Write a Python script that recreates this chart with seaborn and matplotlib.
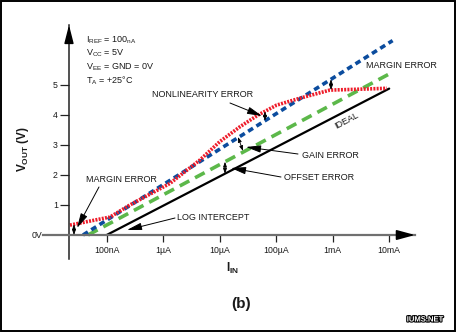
import numpy as np
import pandas as pd
import matplotlib
matplotlib.use("Agg")
import matplotlib.pyplot as plt
import seaborn as sns
from matplotlib.patches import Rectangle
import matplotlib.patheffects as pe

# ---------------- data ----------------
ideal_i = [1e-7, 1e-2]
ideal_v = [0.0, 4.88]
offset_i = [4.68e-8, 1.18e-2]
offset_v = [0.0, 5.44]
gain_i = [3.81e-8, 1.15e-2]
gain_v = [0.0, 6.48]
nonlin_i = [2.24e-8, 1.15e-7, 2.57e-7, 1.32e-6, 4.47e-6, 1.0e-5, 2.29e-5,
            4.79e-5, 1.02e-4, 2.63e-4, 8.91e-4, 3.02e-3, 9.12e-3]
nonlin_v = [0.33, 0.60, 1.00, 1.72, 2.50, 3.11, 3.61, 4.00, 4.33, 4.56,
            4.83, 4.86, 4.89]
x_ticks = [1e-7, 1e-6, 1e-5, 1e-4, 1e-3, 1e-2]
x_tick_labels = ["100nA", "1\u00b5A", "10\u00b5A", "100\u00b5A", "1mA", "10mA"]
y_ticks = [1, 2, 3, 4, 5]
y_tick_labels = ["1", "2", "3", "4", "5"]

sns.set_theme(style="white")
plt.rcParams["font.family"] = ["Liberation Sans", "DejaVu Sans"]
plt.rcParams["mathtext.fontset"] = "custom"
plt.rcParams["mathtext.rm"] = "Liberation Sans"
plt.rcParams["mathtext.bf"] = "Liberation Sans:bold"

TXT = "#1a1a1a"

fig = plt.figure(figsize=(4.57, 3.32), dpi=100)
fig.patch.set_facecolor("white")
ax = fig.add_axes([43 / 457, (332 - 259) / 332, (415 - 43) / 457, (259 - 25) / 332])
ax.set_facecolor("none")
ax.set_xscale("log")
YAX = 10 ** -7.667
ax.set_xlim(10 ** -8.127, 10 ** -1.543)
ax.set_ylim(-0.8, 7.0)


# helper: reference pixel position -> data coords (for text placement)
def D(px, py):
    return (10 ** (-7.667 + (px - 69) / 56.5), (235 - py) / 30.0)


# ---------------- series ----------------
sns.lineplot(x=ideal_i, y=ideal_v, ax=ax, color="black", lw=1.6, sort=False)
sns.lineplot(x=offset_i, y=offset_v, ax=ax, color="#5cb84a", lw=2.6, sort=False)
ax.lines[-1].set_linestyle((0, (3.0, 1.8)))
sns.lineplot(x=gain_i, y=gain_v, ax=ax, color="#0b4c9e", lw=2.6, sort=False)
ax.lines[-1].set_linestyle((0, (1.6, 1.1)))
sns.lineplot(x=nonlin_i, y=nonlin_v, ax=ax, color="#ee1c2a", lw=2.6, sort=False)
ax.lines[-1].set_linestyle((0, (0.55, 0.35)))

# ---------------- axes ----------------
for s in ["top", "right"]:
    ax.spines[s].set_visible(False)
ax.spines["bottom"].set_position(("data", 0))
ax.spines["left"].set_position(("data", YAX))
ax.spines["bottom"].set_color("#707070")
ax.spines["bottom"].set_linewidth(1.6)
ax.spines["left"].set_color("#222222")
ax.spines["left"].set_linewidth(1.1)
ax.set_xticks(x_ticks)
ax.set_xticklabels(x_tick_labels)
ax.minorticks_off()
ax.xaxis.set_minor_locator(matplotlib.ticker.NullLocator())
ax.set_yticks(y_ticks)
ax.set_yticklabels(y_tick_labels)
ax.tick_params(axis="x", direction="out", length=5, width=0.9, color="#222222",
               pad=3, labelsize=6.3, labelcolor=TXT, bottom=True)
ax.tick_params(axis="y", direction="out", length=6.5, width=0.9, color="#222222",
               pad=1.5, labelsize=6.3, labelcolor=TXT, left=True)
ax.text(-0.002, 0, "0V", transform=ax.get_yaxis_transform(), ha="right",
        va="center", fontsize=6.3, color=TXT)
ax.grid(False)

# arrow heads on axes
ax.annotate("", xy=(1.0, 0), xycoords=("axes fraction", "data"),
            xytext=(0.955, 0), textcoords=("axes fraction", "data"),
            arrowprops=dict(arrowstyle="-|>,head_length=1.1,head_width=0.3",
                            mutation_scale=10, color="black", lw=1.2,
                            shrinkA=0, shrinkB=0))
ax.annotate("", xy=(YAX, 1.0), xycoords=("data", "axes fraction"),
            xytext=(YAX, 0.94), textcoords=("data", "axes fraction"),
            arrowprops=dict(arrowstyle="-|>,head_length=1.1,head_width=0.28",
                            mutation_scale=10, color="black", lw=1.1,
                            shrinkA=0, shrinkB=0))

# axis labels
fig.text(233 / 457, 1 - 268 / 332, r"$\mathbf{I_{IN}}$", ha="center", va="center",
         fontsize=8.5, color=TXT, fontweight="bold")
fig.text(23 / 457, 1 - 149 / 332, r"$\mathbf{V_{OUT}}$ (V)", ha="center", va="center",
         rotation=90, fontsize=8.5, color=TXT, fontweight="bold")
fig.text(241 / 457, 1 - 304 / 332, "(b)", ha="center", va="center",
         fontsize=11, color=TXT, fontweight="bold")

# conditions
cond = [r"$\mathregular{I_{REF}}$ = 100$\mathregular{_{nA}}$",
        r"$\mathregular{V_{CC}}$ = 5V",
        r"$\mathregular{V_{EE}}$ = GND = 0V",
        r"$\mathregular{T_A}$ = +25$\mathregular{\degree}$C"]
for k, t in enumerate(cond):
    fig.text(86 / 457, 1 - (40 + 13.5 * k) / 332, t, ha="left", va="center",
             fontsize=6.5, color=TXT)

# ---------------- annotations ----------------
AP = dict(arrowstyle="-|>,head_length=0.9,head_width=0.22", mutation_scale=10,
          color="black", lw=0.7, shrinkA=0, shrinkB=0)
DP = dict(arrowstyle="<|-|>,head_length=0.5,head_width=0.18", mutation_scale=6,
          color="black", lw=0.6, shrinkA=0, shrinkB=0)
FS = 6.5


def interp(xs, ys, xv):
    return float(np.interp(np.log10(xv), np.log10(xs), ys))


# nonlinearity
ax.text(*D(152, 95), "NONLINEARITY ERROR", fontsize=FS, color=TXT, ha="left", va="center")
ax.annotate("", xy=D(262, 116), xytext=D(230, 103), arrowprops=AP)
xe = D(265, 0)[0]
ax.annotate("", xy=(xe, interp(gain_i, gain_v, xe)), xytext=(xe, interp(nonlin_i, nonlin_v, xe)),
            arrowprops=DP)

# margin error (top)
ax.text(*D(366, 65), "MARGIN ERROR", fontsize=FS, color=TXT, ha="left", va="center")
xe = D(331, 0)[0]
ax.annotate("", xy=(xe, interp(gain_i, gain_v, xe)), xytext=(xe, interp(nonlin_i, nonlin_v, xe)),
            arrowprops=DP)

# ideal label
ax.text(*D(346, 121), "IDEAL", fontsize=FS, color=TXT, ha="center", va="center",
        rotation=28, rotation_mode="anchor")

# gain error
ax.text(*D(302, 155), "GAIN ERROR", fontsize=FS, color=TXT, ha="left", va="center")
ax.annotate("", xy=D(246, 147), xytext=D(298, 154), arrowprops=AP)
ax.annotate("", xy=D(243, 151), xytext=D(238, 137), arrowprops=DP)

# offset error
ax.text(*D(284, 178), "OFFSET ERROR", fontsize=FS, color=TXT, ha="left", va="center")
ax.annotate("", xy=D(231, 168), xytext=D(281, 177), arrowprops=AP)
xe = D(225, 0)[0]
ax.annotate("", xy=(xe, interp(ideal_i, ideal_v, xe)), xytext=(xe, interp(offset_i, offset_v, xe)),
            arrowprops=DP)

# margin error (bottom)
ax.text(*D(86, 179), "MARGIN ERROR", fontsize=FS, color=TXT, ha="left", va="center")
ax.annotate("", xy=D(77, 228), xytext=D(99, 187), arrowprops=AP)
xe = D(74, 0)[0]
ax.annotate("", xy=(xe, 0), xytext=(xe, interp(nonlin_i, nonlin_v, xe)), arrowprops=DP)

# log intercept
ax.text(*D(177, 217), "LOG INTERCEPT", fontsize=FS, color=TXT, ha="left", va="center")
ax.annotate("", xy=D(127, 230), xytext=D(175, 218), arrowprops=AP)

# watermark
fig.text(425 / 457, 1 - 320 / 332, "IUMS.NET", ha="center", va="center",
         fontsize=5.5, fontweight="bold", color="white",
         path_effects=[pe.withStroke(linewidth=1.6, foreground="black")])

# frame
fig.patches.append(Rectangle((0.002, 0.003), 0.994, 0.994, transform=fig.transFigure,
                             fill=False, edgecolor="black", lw=1.4))

fig.savefig("out.png", dpi=100)
